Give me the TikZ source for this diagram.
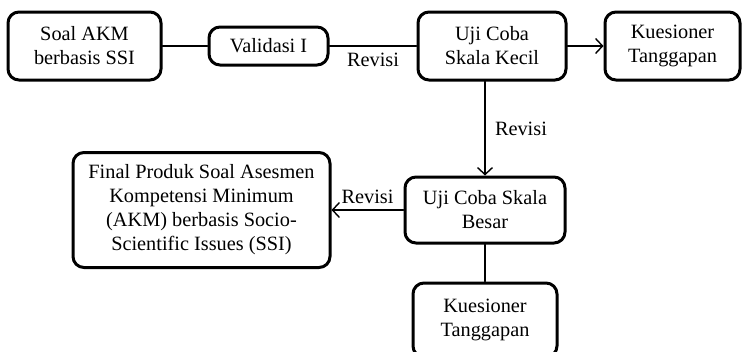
\documentclass[tikz,border=0pt]{standalone}
\usepackage{fontspec}
\setmainfont{Liberation Serif}
\usetikzlibrary{arrows.meta}

\tikzset{
  kotak/.style={draw, line width=3pt, rounded corners=11pt, align=center, inner sep=0pt},
  garis/.style={line width=1.4pt}
}

\begin{document}
\begin{tikzpicture}[x=1pt, y=-1pt, line cap=round, line join=round,
    >={Straight Barb[length=7pt,width=15pt]},
    font=\fontsize{20.3}{24}\selectfont]

  \useasboundingbox (0,0) rectangle (743,351);

  % Baris atas
  \node[kotak, minimum width=153pt, minimum height=68pt] (soal) at (84.5,46) {Soal AKM\\berbasis SSI};
  \node[kotak, minimum width=119pt, minimum height=38pt] (validasi) at (268.5,46) {Validasi I};
  \node[kotak, minimum width=148pt, minimum height=68pt] (kecil) at (492,46) {Uji Coba\\Skala Kecil};
  \node[kotak, minimum width=135pt, minimum height=68pt] (kuesA) at (672.5,46) {Kuesioner\\Tanggapan};

  % Baris bawah
  \node[kotak, minimum width=160pt, minimum height=66pt] (besar) at (485,210) {Uji Coba Skala\\Besar};
  \node[kotak, minimum width=257pt, minimum height=115pt] (final) at (201.5,210)
    {Final Produk Soal Asesmen\\Kompetensi Minimum\\(AKM) berbasis Socio-\\Scientific Issues (SSI)};
  \node[kotak, minimum width=144pt, minimum height=74pt] (kuesB) at (485,320) {Kuesioner\\Tanggapan};

  % Penghubung
  \draw[garis] (soal) -- (validasi);
  \draw[garis] (validasi) -- node[below=3pt] {Revisi} (kecil);
  \draw[garis, ->] (kecil) -- (kuesA);
  \draw[garis, ->] (besar.north |- kecil.south) -- node[right=6pt] {Revisi} (besar.north);
  \draw[garis, ->] (besar) -- node[above=2pt] {Revisi} (final);
  \draw[garis] (besar) -- (kuesB);

\end{tikzpicture}
\end{document}
